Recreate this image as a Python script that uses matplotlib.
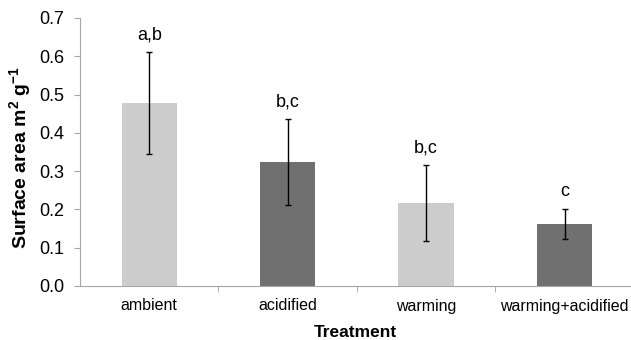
import numpy as np
import matplotlib.pyplot as plt
from matplotlib.ticker import FixedLocator

plt.rcParams['font.family'] = ['Liberation Sans', 'DejaVu Sans']
plt.rcParams['mathtext.fontset'] = 'custom'
plt.rcParams['mathtext.rm'] = 'Liberation Sans'
plt.rcParams['mathtext.bf'] = 'Liberation Sans:bold'

treatments = ["ambient", "acidified", "warming", "warming+acidified"]
surface_area = [0.477, 0.323, 0.216, 0.162]
err_upper = [0.611, 0.435, 0.315, 0.202]
err_lower = [0.344, 0.212, 0.117, 0.123]
letters = ["a,b", "b,c", "b,c", "c"]
colors = ["#cccccc", "#707070", "#cccccc", "#707070"]

fig = plt.figure(figsize=(6.31, 3.40), dpi=100)
ax = fig.add_axes([80 / 631, 1 - 286 / 340, 551 / 631, 268 / 340])

x = np.arange(len(treatments))
yerr = [np.array(surface_area) - np.array(err_lower),
        np.array(err_upper) - np.array(surface_area)]
ax.bar(x, surface_area, width=0.4, color=colors, zorder=2)
ax.errorbar(x, surface_area, yerr=yerr, fmt="none", ecolor="black",
            elinewidth=1.0, capsize=2, capthick=1.0, zorder=3)

for xi, top, lab in zip(x, err_upper, letters):
    ax.annotate(lab, (xi, top), xytext=(0, 9), textcoords="offset points",
                ha="center", va="baseline", fontsize=13)

ax.set_xlim(-0.5, 3.48)
ax.set_ylim(0, 0.7)
ax.set_yticks(np.arange(0, 0.71, 0.1))
ax.set_yticklabels([f"{v:.1f}" for v in np.arange(0, 0.71, 0.1)], fontsize=13)
ax.set_xticks(x)
ax.set_xticklabels(treatments, fontsize=11.5)
ax.xaxis.set_minor_locator(FixedLocator([0.5, 1.5, 2.5]))
ax.tick_params(axis="x", which="major", length=0, pad=9)
ax.tick_params(axis="x", which="minor", length=4.5, color="#a6a6a6")
ax.tick_params(axis="y", length=4.5, color="#a6a6a6", pad=7)

for s in ["top", "right"]:
    ax.spines[s].set_visible(False)
for s in ["left", "bottom"]:
    ax.spines[s].set_color("#a6a6a6")

ax.set_xlabel("Treatment", fontsize=12.5, fontweight="bold", labelpad=8)
ax.set_ylabel(r"Surface area m$^{\mathbf{2}}$ g$^{\mathbf{-1}}$", fontsize=14,
              fontweight="bold")
ax.yaxis.set_label_coords(-46 / 551, 0.478)

fig.savefig("out.png", dpi=100)
